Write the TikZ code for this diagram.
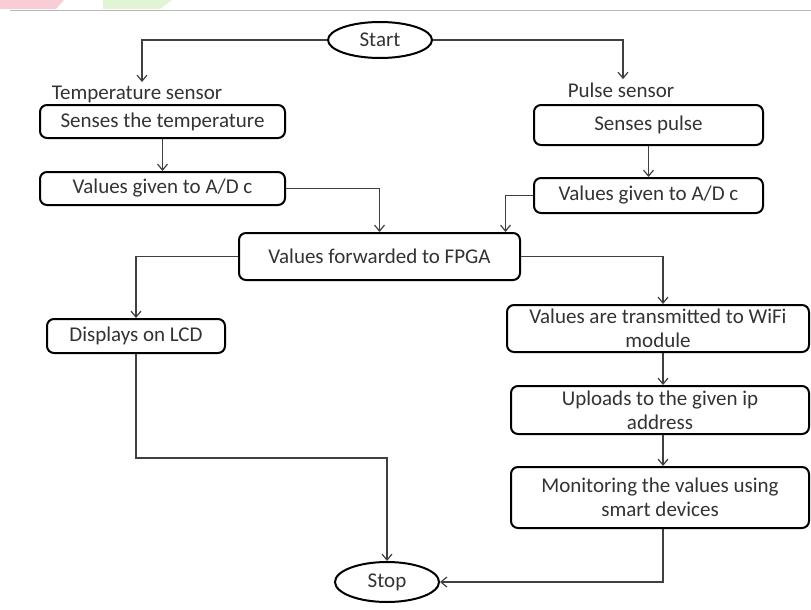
\documentclass[tikz,border=0pt]{standalone}
\usepackage{fontspec}
\setmainfont{Carlito}
\usetikzlibrary{arrows.meta,shapes.geometric}

\definecolor{wmpink}{RGB}{250,205,214}
\definecolor{wmgreen}{RGB}{226,244,214}
\tikzset{proc/.style={draw=black,line width=2pt,rounded corners=7pt,fill=white,
		inner sep=0pt,align=center,text=black!80,font=\fontsize{21}{24}\selectfont}
}
\tikzstyle{term}=[draw=black,line width=2pt,ellipse,inner sep=0pt,text=black!80,font=\fontsize{21}{24}\selectfont]
\tikzstyle{lbl}=[text=black!80,font=\fontsize{21}{24}\selectfont]
\tikzstyle{conn}=[->,line width=1.2pt,draw=black!75]

\begin{document}
\begin{tikzpicture}[x=1pt,y=-1pt,>={Straight Barb[length=6pt,width=10pt]}]
	\useasboundingbox (0,0) rectangle (811,610);
	% page header
	\fill[wmpink] (0,0) -- (64,0) -- (56,9) -- (0,9) -- cycle;
	\fill[wmgreen] (103,0) -- (172,0) -- (160,9) -- (103,9) -- cycle;
	\draw[gray!55,line width=1pt] (10,11) -- (811,11);
	
	\node (start)[term, minimum width=104pt, minimum height=36pt] at (380,40) {Start};
	\node (tempLbl)[lbl] at (137,94) {Temperature sensor};
	\node (pulseLbl)[lbl] at (621,90) {Pulse sensor};
	
	\node (temp)[proc, minimum width=245pt, minimum height=33pt] at (162.5,121.5) {Senses the temperature};
	\node (adcL)[proc, minimum width=245pt, minimum height=33pt] at (162.5,188.5) {Values given to A/D c};
	\node (pulse)[proc, minimum width=229pt, minimum height=40pt] at (648.5,125) {Senses pulse};
	\node (adcR)[proc, minimum width=229pt, minimum height=35pt] at (648.5,195.5) {Values given to A/D c};
	\node (fpga)[proc, minimum width=281pt, minimum height=47pt] at (379.5,256.5) {Values forwarded to FPGA};
	\node (lcd)[proc, minimum width=178pt, minimum height=34pt] at (136,336) {Displays on LCD};
	\node (wifi)[proc, minimum width=302pt, minimum height=47pt] at (658,328.5) {Values are transmitted to WiFi\\module};
	\node (upload)[proc, minimum width=298pt, minimum height=48pt] at (660,410) {Uploads to the given ip\\address};
	\node (monitor)[proc, minimum width=298pt, minimum height=61pt] at (660,497.5) {Monitoring the values using\\smart devices};
	\node (stop)[term, minimum width=104pt, minimum height=40pt] at (387,582) {Stop};
	
	\coordinate (rcol) at (663,0);
	
	\draw[conn] (start.west) -| ([xshift=5pt]tempLbl.north);
	\draw[conn] (start.east) -| ([xshift=2pt]pulseLbl.north);
	\draw[conn] (temp) -- (adcL);
	\draw[conn] (adcL.east) -| (fpga.north);
	\draw[conn] (pulse) -- (adcR);
	\draw[conn] (adcR.west) -| ([xshift=126pt]fpga.north);
	\draw[conn] (fpga.west) -| (lcd.north);
	\draw[conn] (fpga.east) -| (wifi.north -| rcol);
	\draw[conn] (wifi.south -| rcol) -- (upload.north -| rcol);
	\draw[conn] (upload.south -| rcol) -- (monitor.north -| rcol);
	\draw[conn] (lcd.south) -- ++(0,104) -| (stop.north);
	\draw[conn] (monitor.south -| rcol) |- (stop.east);
\end{tikzpicture}
\end{document}
